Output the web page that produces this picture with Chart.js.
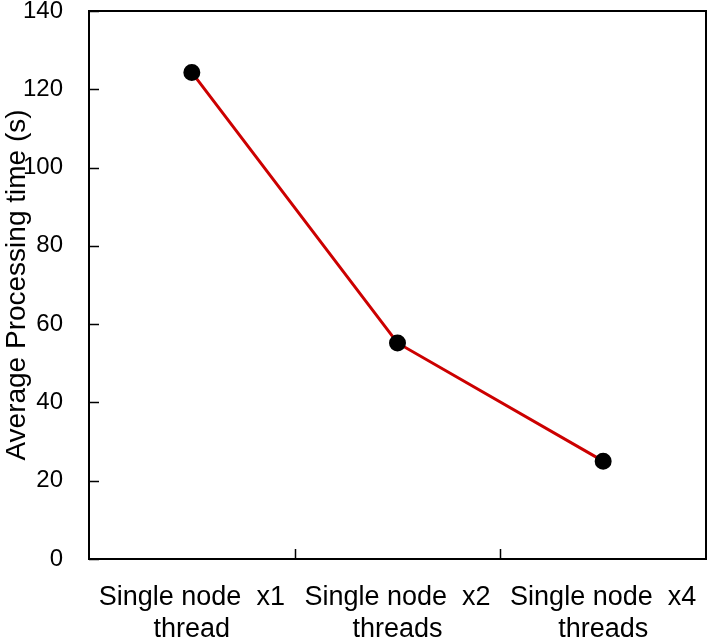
<!DOCTYPE html>
<html>
<head>
<meta charset="utf-8">
<script src="https://cdn.jsdelivr.net/npm/chart.js@4"></script>
<style>
  html, body { margin: 0; padding: 0; background: #fff; }
  #wrap { width: 708px; height: 638px; }
</style>
</head>
<body>
<div id="wrap"><canvas id="chart" width="708" height="638"></canvas></div>
<script>
// dane
const categories = [
    ['Single node  x1', 'thread'],
    ['Single node  x2', 'threads'],
    ['Single node  x4', 'threads']
];
const avgTimes = [124.3, 55.2, 25.0];
const yTicks = [0, 20, 40, 60, 80, 100, 120, 140];

const FONT = 'Liberation Sans, Arial, sans-serif';

// ramka wokół obszaru wykresu + krótkie znaczniki do wewnątrz
const framePlugin = {
    id: 'frame',
    afterDraw(chart) {
        const { ctx, chartArea: a, scales } = chart;
        ctx.save();
        ctx.strokeStyle = '#000';
        ctx.lineWidth = 2;
        ctx.strokeRect(a.left, a.top, a.right - a.left, a.bottom - a.top);
        ctx.lineWidth = 1.5;
        ctx.beginPath();
        yTicks.forEach(v => {
            const y = Math.round(scales.y.getPixelForValue(v)) + 0.5;
            ctx.moveTo(a.left, y);
            ctx.lineTo(a.left + 10, y);
        });
        // znaczniki na osi X między kategoriami
        for (let i = 1; i < categories.length; i++) {
            const x = Math.round((scales.x.getPixelForValue(i - 1) + scales.x.getPixelForValue(i)) / 2) + 0.5;
            ctx.moveTo(x, a.bottom);
            ctx.lineTo(x, a.bottom - 10);
        }
        ctx.stroke();
        ctx.restore();
    }
};

const ctx = document.getElementById('chart').getContext('2d');
new Chart(ctx, {
    type: 'line',
    data: {
        labels: categories,
        datasets: [{
            data: avgTimes,
            borderColor: '#cc0000',
            borderWidth: 3,
            pointBackgroundColor: '#000',
            pointBorderColor: '#000',
            pointRadius: 7,
            tension: 0,
            fill: false
        }]
    },
    options: {
        responsive: false,
        animation: false,
        layout: { autoPadding: false, padding: { top: 11, right: 2, left: 0, bottom: 0 } },
        plugins: {
            legend: { display: false },
            tooltip: { enabled: false }
        },
        scales: {
            x: {
                offset: true,
                grid: { display: false },
                border: { display: false },
                ticks: {
                    color: '#000',
                    font: { family: FONT, size: 27, lineHeight: 1.2 },
                    padding: 14,
                    maxRotation: 0,
                    autoSkip: false
                },
                afterFit(scale) {
                    scale.height = 79;
                    scale.paddingLeft = 0;
                    scale.paddingRight = 0;
                }
            },
            y: {
                min: 0,
                max: 140,
                grid: { display: false },
                border: { display: false },
                afterBuildTicks(scale) { scale.ticks = yTicks.map(v => ({ value: v })); },
                ticks: {
                    color: '#000',
                    font: { family: FONT, size: 24 },
                    padding: 18
                },
                title: {
                    display: true,
                    text: 'Average Processing time (s)',
                    color: '#000',
                    font: { family: FONT, size: 28 },
                    padding: 0
                },
                afterFit(scale) {
                    scale.width = 89;
                    scale.paddingTop = 0;
                    scale.paddingBottom = 0;
                }
            }
        }
    },
    plugins: [framePlugin]
});
</script>
</body>
</html>
